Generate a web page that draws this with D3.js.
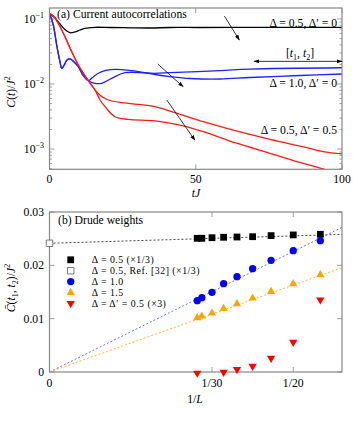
<!DOCTYPE html>
<html>
<head>
<meta charset="utf-8">
<script src="https://cdn.jsdelivr.net/npm/d3@7"></script>
<style>
  body { margin: 0; background: #fff; }
</style>
</head>
<body>
<div id="chart"></div>
<script>
// ---- data: panel (a), curves as [tJ, C(t)/J^2]
const blackCurve = [[0,0.1225],[1.9,0.1036],[3.6,0.0838],[5.3,0.0689],[7.0,0.0615],[8.7,0.0631],[10.4,0.0677],[12.1,0.0719],[15.6,0.0745],[20.7,0.0740],[27.5,0.0732],[34.4,0.0727],[41.2,0.0740],[51.5,0.0740],[68.5,0.0745],[85.6,0.0745],[100,0.0745]];
const blueStart = [[0,0.1225],[1.3,0.0809],[2.46,0.0398],[3.59,0.0220],[4.17,0.01745],[4.96,0.0193],[5.98,0.0234],[7.0,0.0243],[8.4,0.0218],[9.85,0.01845],[11.45,0.01375],[13.26,0.01125]];
const blueQ = [[15.56,0.01026],[17.85,0.01026],[21.26,0.01225],[25.8,0.01493],[36.07,0.01462],[41.2,0.01493],[58.3,0.01603],[68.5,0.0170],[100,0.0178]];
const blueP = [[14.5,0.01236],[16.7,0.01462],[19.3,0.01615],[22.4,0.01683],[28.1,0.01603],[36.07,0.0140],[41.2,0.01303],[48.0,0.01216],[58.3,0.01194],[68.5,0.01259],[85.6,0.01352],[100,0.01425]];
const redStart = [[0,0.1225],[1.54,0.109],[3.0,0.0859],[5.3,0.0534],[7.6,0.0314],[9.85,0.0196],[13.26,0.01125],[15.56,0.0081]];
const redUpper = [[17.6,0.00653],[20.1,0.00568],[24.7,0.00516],[32.6,0.00475],[36.07,0.00448],[41.2,0.00384],[52.6,0.00263],[60.6,0.00208],[75.4,0.00141],[86.8,0.00108],[93.6,0.00091],[100,0.00084]];
const redLower = [[17.3,0.00568],[19.0,0.00448],[22.4,0.00314],[26.9,0.00286],[36.07,0.00272],[44.6,0.00234],[52.6,0.00185],[64.0,0.00123],[75.4,0.00086],[86.8,0.00060],[93.8,0.00049],[97,0.00042]];

const tTicks = [0, 50, 100];
const logTicks = [1e-1, 1e-2, 1e-3];
const logTickLabels = ["−1", "−2", "−3"];

// ---- data: panel (b), Drude weights vs 1/L
const sizesL = [33, 32, 30, 28, 26, 24, 22, 20, 18];
const drude05 = [0.02507, 0.02507, 0.02518, 0.02526, 0.02531, 0.02537, 0.02557, 0.0257, 0.02582];
const drude10 = [0.01337, 0.01393, 0.01494, 0.01656, 0.01787, 0.01937, 0.02094, 0.02275, 0.02462];
const drude15 = [0.01007, 0.01037, 0.01093, 0.01181, 0.01269, 0.01374, 0.015, 0.01644, 0.01813];
const sizesLPrime = [33, 28, 26, 24, 22, 20, 18];
const drudePrime = [-0.0001, 0.00006, 0.00056, 0.00118, 0.00268, 0.00568, 0.01363];
const refValue = 0.02413;
// fit lines: [intercept, slope] in 1/L
const fit05 = [0.02413, 0.0278];
const fit10 = [0, 0.452];
const fit15 = [0, 0.326];
const invLTicks = [1/30, 1/20];
const invLTickLabels = ["1/30", "1/20"];
const drudeTicks = [0, 0.01, 0.02, 0.03];
const legendLabels = ["Δ = 0.5 (×1/3)", "Δ = 0.5, Ref. [32] (×1/3)", "Δ = 1.0", "Δ = 1.5", "Δ = Δ′ = 0.5 (×3)"];

const W = 353, H = 424;
const frame = "#888";
const fs = 11.7;
const fsSub = 8;

const svg = d3.select("#chart").append("svg")
  .attr("width", W).attr("height", H)
  .attr("font-family", "'Liberation Serif', 'DejaVu Serif', serif");

const defs = svg.append("defs");
defs.append("marker").attr("id", "head")
  .attr("viewBox", "0 0 10 10").attr("refX", 9).attr("refY", 5)
  .attr("markerWidth", 7).attr("markerHeight", 7).attr("orient", "auto-start-reverse")
  .append("path").attr("d", "M0,1.5 L10,5 L0,8.5 z").attr("fill", "#000");

// ================= panel (a)
const xA = d3.scaleLinear().domain([0, 100]).range([49.5, 342]);
const yA = d3.scaleLog().domain([4.88e-4, 0.1476]).range([169.3, 8]);

defs.append("clipPath").attr("id", "clipA").append("rect")
  .attr("x", 49.5).attr("y", 8).attr("width", 292.5).attr("height", 161.3);

const gA = svg.append("g");

// minor and major log ticks, both sides
const logMinor = [];
[1e-4, 1e-3, 1e-2, 1e-1].forEach(dec => {
  for (let k = 1; k <= 9; k++) {
    const v = dec * k;
    if (v >= yA.domain()[0] && v <= yA.domain()[1]) logMinor.push([v, k === 1]);
  }
});
logMinor.forEach(([v, major]) => {
  const len = major ? 5 : 2.5;
  gA.append("line").attr("x1", 49.5).attr("x2", 49.5 + len)
    .attr("y1", yA(v)).attr("y2", yA(v)).attr("stroke", frame).attr("stroke-width", 0.8);
  gA.append("line").attr("x1", 342).attr("x2", 342 - len)
    .attr("y1", yA(v)).attr("y2", yA(v)).attr("stroke", frame).attr("stroke-width", 0.8);
});
tTicks.forEach(t => {
  gA.append("line").attr("x1", xA(t)).attr("x2", xA(t)).attr("y1", 169.3).attr("y2", 164.3)
    .attr("stroke", frame).attr("stroke-width", 0.8);
  gA.append("line").attr("x1", xA(t)).attr("x2", xA(t)).attr("y1", 8).attr("y2", 13)
    .attr("stroke", frame).attr("stroke-width", 0.8);
  gA.append("text").attr("x", xA(t)).attr("y", 182.5).attr("text-anchor", "middle")
    .attr("font-size", fs).text(t);
});
logTicks.forEach((v, i) => {
  const t = gA.append("text").attr("x", 44).attr("y", yA(v) + 4).attr("text-anchor", "end")
    .attr("font-size", fs);
  t.append("tspan").text("10");
  t.append("tspan").attr("dy", -5).attr("font-size", fsSub).text(logTickLabels[i]);
});

const lineA = d3.line()
  .x(d => xA(d[0])).y(d => yA(d[1]))
  .curve(d3.curveCatmullRom.alpha(0.5));

const curves = gA.append("g").attr("clip-path", "url(#clipA)").attr("fill", "none").attr("stroke-width", 1.3);
curves.append("path").attr("d", lineA(blackCurve)).attr("stroke", "#000");
curves.append("path").attr("d", lineA(blueStart.concat(blueQ))).attr("stroke", "#2020ff");
curves.append("path").attr("d", lineA(blueStart.concat(blueP))).attr("stroke", "#2020ff");
curves.append("path").attr("d", lineA(redStart.concat(redUpper))).attr("stroke", "#ff1a1a");
curves.append("path").attr("d", lineA(redStart.concat(redLower))).attr("stroke", "#ff1a1a");

gA.append("rect").attr("x", 49.5).attr("y", 8).attr("width", 292.5).attr("height", 161.3)
  .attr("fill", "none").attr("stroke", frame).attr("stroke-width", 1.2);

// annotations
const arrowsA = [
  [[59.8, 0.111], [64.9, 0.0475]],
  [[37.0, 0.0203], [45.7, 0.00908]],
  [[40.1, 0.00568], [49.7, 0.00137]]
];
arrowsA.forEach(([a, b]) => {
  gA.append("line").attr("x1", xA(a[0])).attr("y1", yA(a[1]))
    .attr("x2", xA(b[0])).attr("y2", yA(b[1]))
    .attr("stroke", "#000").attr("stroke-width", 0.8).attr("marker-end", "url(#head)");
});
gA.append("line").attr("x1", xA(69.9)).attr("x2", xA(100)).attr("y1", yA(0.0223)).attr("y2", yA(0.0223))
  .attr("stroke", "#000").attr("stroke-width", 0.8)
  .attr("marker-end", "url(#head)").attr("marker-start", "url(#head)");

const intv = gA.append("text").attr("x", 300).attr("y", 57).attr("text-anchor", "middle").attr("font-size", fs);
intv.append("tspan").text("[");
intv.append("tspan").attr("font-style", "italic").text("t");
intv.append("tspan").attr("dy", 2.5).attr("font-size", fsSub).text("1");
intv.append("tspan").attr("dy", -2.5).text(", ");
intv.append("tspan").attr("font-style", "italic").text("t");
intv.append("tspan").attr("dy", 2.5).attr("font-size", fsSub).text("2");
intv.append("tspan").attr("dy", -2.5).text("]");

[["Δ = 0.5, Δ′ = 0", 26.7], ["Δ = 1.0, Δ′ = 0", 86.7], ["Δ = 0.5, Δ′ = 0.5", 134]].forEach(([s, y]) => {
  gA.append("text").attr("x", 337).attr("y", y).attr("text-anchor", "end")
    .attr("font-size", fs).text(s);
});
gA.append("text").attr("x", 57).attr("y", 17.5).attr("font-size", fs).text("(a) Current autocorrelations");

const labA = gA.append("text").attr("transform", "translate(15,92) rotate(-90)")
  .attr("text-anchor", "middle").attr("font-size", fs);
labA.append("tspan").attr("font-style", "italic").text("C");
labA.append("tspan").text("(");
labA.append("tspan").attr("font-style", "italic").text("t");
labA.append("tspan").text(")/");
labA.append("tspan").attr("font-style", "italic").text("J");
labA.append("tspan").attr("dy", -5).attr("font-size", fsSub).text("2");

gA.append("text").attr("x", 196).attr("y", 196.5).attr("text-anchor", "middle").attr("font-size", fs)
  .attr("font-style", "italic").text("tJ");

// ================= panel (b)
const xB = d3.scaleLinear().domain([0, 0.06]).range([49.5, 342]);
const yB = d3.scaleLinear().domain([0, 0.03]).range([372, 212]);
const gB = svg.append("g");

defs.append("clipPath").attr("id", "clipB").append("rect")
  .attr("x", 49.5).attr("y", 212).attr("width", 292.5).attr("height", 160);

invLTicks.forEach((v, i) => {
  gB.append("line").attr("x1", xB(v)).attr("x2", xB(v)).attr("y1", 372).attr("y2", 367)
    .attr("stroke", frame).attr("stroke-width", 0.8);
  gB.append("line").attr("x1", xB(v)).attr("x2", xB(v)).attr("y1", 212).attr("y2", 217)
    .attr("stroke", frame).attr("stroke-width", 0.8);
  gB.append("text").attr("x", xB(v)).attr("y", 387).attr("text-anchor", "middle")
    .attr("font-size", fs).text(invLTickLabels[i]);
});
gB.append("text").attr("x", xB(0)).attr("y", 387).attr("text-anchor", "middle")
  .attr("font-size", fs).text("0");
drudeTicks.forEach(v => {
  gB.append("line").attr("x1", 49.5).attr("x2", 54.5).attr("y1", yB(v)).attr("y2", yB(v))
    .attr("stroke", frame).attr("stroke-width", 0.8);
  gB.append("line").attr("x1", 342).attr("x2", 337).attr("y1", yB(v)).attr("y2", yB(v))
    .attr("stroke", frame).attr("stroke-width", 0.8);
  gB.append("text").attr("x", 44).attr("y", yB(v) + 4).attr("text-anchor", "end")
    .attr("font-size", fs).text(v === 0 ? "0" : d3.format(".2f")(v));
});

// fit lines
const fits = gB.append("g").attr("clip-path", "url(#clipB)").attr("fill", "none")
  .attr("stroke-width", 1).attr("stroke-dasharray", "2,2");
[[fit05, "#444"], [fit10, "#7070ff"], [fit15, "#ffb52e"]].forEach(([f, c]) => {
  fits.append("line").attr("x1", xB(0)).attr("y1", yB(f[0]))
    .attr("x2", xB(0.06)).attr("y2", yB(f[0] + f[1] * 0.06)).attr("stroke", c);
});

gB.append("rect").attr("x", 49.5).attr("y", 212).attr("width", 292.5).attr("height", 160)
  .attr("fill", "none").attr("stroke", frame).attr("stroke-width", 1.2);

const sq = d3.symbol(d3.symbolSquare, 46);
const sqOpen = d3.symbol(d3.symbolSquare, 42);
const circ = d3.symbol(d3.symbolCircle, 42);
const tri = d3.symbol(d3.symbolTriangle, 30);

const pts = gB.append("g");
pts.selectAll(".s05").data(sizesL).join("path")
  .attr("d", sq).attr("fill", "#000")
  .attr("transform", (L, i) => `translate(${xB(1 / L)},${yB(drude05[i])})`);
pts.append("path").attr("d", sqOpen).attr("fill", "#fff").attr("stroke", "#555").attr("stroke-width", 0.8)
  .attr("transform", `translate(${xB(0)},${yB(refValue)})`);
pts.selectAll(".s10").data(sizesL).join("path")
  .attr("d", circ).attr("fill", "#0000ff")
  .attr("transform", (L, i) => `translate(${xB(1 / L)},${yB(drude10[i])})`);
pts.selectAll(".s15").data(sizesL).join("path")
  .attr("d", tri).attr("fill", "#ffa500")
  .attr("transform", (L, i) => `translate(${xB(1 / L)},${yB(drude15[i]) - 0.5})`);
pts.selectAll(".sP").data(sizesLPrime).join("path")
  .attr("d", tri).attr("fill", "#ff0000")
  .attr("transform", (L, i) => `translate(${xB(1 / L)},${yB(drudePrime[i]) + 0.5}) rotate(180)`);

// legend
const legSym = [
  g => g.append("path").attr("d", sq).attr("fill", "#000"),
  g => g.append("path").attr("d", sqOpen).attr("fill", "#fff").attr("stroke", "#555").attr("stroke-width", 0.8),
  g => g.append("path").attr("d", circ).attr("fill", "#0000ff"),
  g => g.append("path").attr("d", tri).attr("fill", "#ffa500"),
  g => g.append("path").attr("d", tri).attr("fill", "#ff0000").attr("transform", "rotate(180)")
];
const legY = [259.8, 270.7, 281.6, 292.5, 303.4];
legendLabels.forEach((s, i) => {
  const g = gB.append("g").attr("transform", `translate(70.7,${legY[i]})`);
  legSym[i](g);
  g.append("text").attr("x", 21).attr("y", 3.5).attr("font-size", 9.8)
    .attr("letter-spacing", 0.5).text(s);
});

gB.append("text").attr("x", 58).attr("y", 224).attr("font-size", fs).text("(b) Drude weights");

const labB = gB.append("text").attr("transform", "translate(15,288) rotate(-90)")
  .attr("text-anchor", "middle").attr("font-size", fs);
labB.append("tspan").attr("font-style", "italic").text("C̄");
labB.append("tspan").text("(");
labB.append("tspan").attr("font-style", "italic").text("t");
labB.append("tspan").attr("dy", 2.5).attr("font-size", fsSub).text("1");
labB.append("tspan").attr("dy", -2.5).text(", ");
labB.append("tspan").attr("font-style", "italic").text("t");
labB.append("tspan").attr("dy", 2.5).attr("font-size", fsSub).text("2");
labB.append("tspan").attr("dy", -2.5).text(")/");
labB.append("tspan").attr("font-style", "italic").text("J");
labB.append("tspan").attr("dy", -5).attr("font-size", fsSub).text("2");

const invL = gB.append("text").attr("x", 195).attr("y", 403).attr("text-anchor", "middle").attr("font-size", fs);
invL.append("tspan").text("1/");
invL.append("tspan").attr("font-style", "italic").text("L");
</script>
</body>
</html>
